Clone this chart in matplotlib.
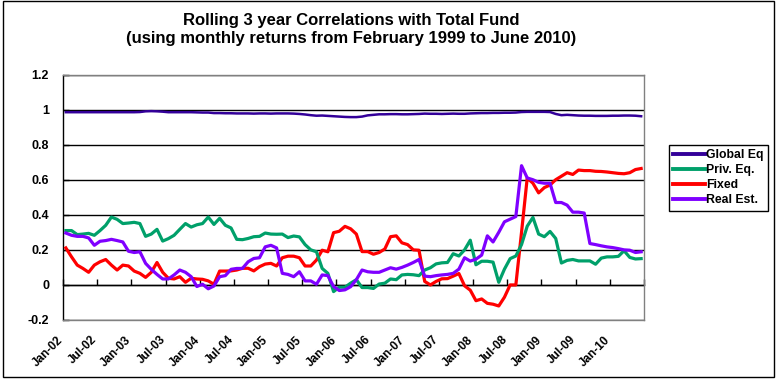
import matplotlib
matplotlib.use("Agg")
import matplotlib.pyplot as plt
import matplotlib.transforms as mtransforms
from matplotlib.patches import Rectangle

plt.rcParams['font.family'] = ['Liberation Sans', 'DejaVu Sans']

# monthly points, Jan-02 .. Jun-10 (102 months)
tick_labels = ["Jan-02", "Jul-02", "Jan-03", "Jul-03", "Jan-04", "Jul-04", "Jan-05", "Jul-05",
               "Jan-06", "Jul-06", "Jan-07", "Jul-07", "Jan-08", "Jul-08", "Jan-09", "Jul-09",
               "Jan-10"]

global_eq = [0.985, 0.985, 0.985, 0.985, 0.985, 0.985, 0.985, 0.985, 0.985, 0.985,
             0.985, 0.985, 0.985, 0.986, 0.99, 0.991, 0.99, 0.988, 0.985, 0.985,
             0.985, 0.985, 0.985, 0.984, 0.983, 0.983, 0.98, 0.98, 0.979, 0.979,
             0.978, 0.978, 0.978, 0.977, 0.978, 0.978, 0.977, 0.978, 0.978, 0.978,
             0.977, 0.975, 0.972, 0.968, 0.965, 0.966, 0.964, 0.962, 0.96, 0.958,
             0.957, 0.957, 0.96, 0.967, 0.97, 0.973, 0.973, 0.974, 0.974, 0.973,
             0.973, 0.974, 0.975, 0.977, 0.976, 0.976, 0.975, 0.976, 0.977, 0.976,
             0.976, 0.978, 0.979, 0.98, 0.98, 0.981, 0.981, 0.982, 0.982, 0.983,
             0.986, 0.987, 0.987, 0.987, 0.987, 0.986, 0.975, 0.968, 0.97, 0.968,
             0.966, 0.965, 0.965, 0.964, 0.964, 0.964, 0.965, 0.965, 0.966, 0.966,
             0.965, 0.962]

priv_eq = [0.31, 0.31, 0.287, 0.29, 0.294, 0.283, 0.31, 0.34, 0.387, 0.374,
           0.35, 0.353, 0.357, 0.35, 0.277, 0.29, 0.317, 0.25, 0.264, 0.283,
           0.317, 0.35, 0.33, 0.343, 0.35, 0.387, 0.345, 0.38, 0.34, 0.325,
           0.26, 0.258, 0.265, 0.275, 0.277, 0.296, 0.29, 0.289, 0.29, 0.27,
           0.279, 0.274, 0.23, 0.2, 0.189, 0.094, 0.066, -0.038, -0.013, -0.013,
           0.01, 0.03, -0.015, -0.015, -0.02, 0.005, 0.01, 0.034, 0.03, 0.057,
           0.06, 0.058, 0.053, 0.085, 0.098, 0.12, 0.126, 0.128, 0.178, 0.165,
           0.2, 0.255, 0.115, 0.135, 0.135, 0.13, 0.015, 0.09, 0.15, 0.165,
           0.23, 0.335, 0.385, 0.29, 0.275, 0.305, 0.265, 0.125, 0.14, 0.145,
           0.137, 0.137, 0.137, 0.118, 0.153, 0.16, 0.16, 0.163, 0.195, 0.157,
           0.148, 0.15]

fixed = [0.211, 0.16, 0.113, 0.094, 0.072, 0.113, 0.132, 0.145, 0.113, 0.085,
         0.113, 0.108, 0.079, 0.066, 0.043, 0.072, 0.128, 0.072, 0.038, 0.034,
         0.047, 0.015, 0.038, 0.034, 0.032, 0.023, 0.004, 0.079, 0.079, 0.08,
         0.085, 0.095, 0.095, 0.08, 0.104, 0.119, 0.123, 0.108, 0.155, 0.164,
         0.164, 0.155, 0.108, 0.108, 0.142, 0.198, 0.189, 0.298, 0.306, 0.334,
         0.32, 0.29, 0.19, 0.19, 0.175, 0.185, 0.205, 0.275, 0.28, 0.24,
         0.23, 0.2, 0.198, 0.02, 0.0, 0.02, 0.035, 0.036, 0.05, 0.065,
         -0.005, -0.03, -0.09, -0.08, -0.105, -0.11, -0.12, -0.07, 0.0, 0.0,
         0.3, 0.61, 0.58, 0.525, 0.555, 0.57, 0.6, 0.62, 0.64, 0.63,
         0.655, 0.652, 0.652, 0.648, 0.647, 0.644, 0.64, 0.636, 0.634, 0.64,
         0.658, 0.664]

real_est = [0.296, 0.283, 0.277, 0.277, 0.268, 0.226, 0.249, 0.253, 0.26, 0.253,
            0.245, 0.192, 0.185, 0.189, 0.123, 0.089, 0.06, 0.034, 0.034, 0.057,
            0.085, 0.072, 0.047, -0.009, 0.004, -0.022, -0.006, 0.047, 0.053, 0.089,
            0.094, 0.094, 0.132, 0.151, 0.155, 0.217, 0.226, 0.211, 0.066, 0.06,
            0.047, 0.075, 0.023, 0.023, 0.004, 0.057, 0.053, -0.009, -0.032, -0.028,
            -0.01, 0.03, 0.085, 0.075, 0.072, 0.072, 0.085, 0.098, 0.09, 0.1,
            0.113, 0.128, 0.145, 0.05, 0.047, 0.053, 0.057, 0.06, 0.066, 0.09,
            0.155, 0.136, 0.147, 0.17, 0.28, 0.245, 0.3, 0.36, 0.375, 0.39,
            0.68, 0.61, 0.6, 0.585, 0.58, 0.58, 0.47, 0.47, 0.455, 0.415,
            0.415, 0.41, 0.236, 0.23, 0.223, 0.217, 0.213, 0.207, 0.2, 0.198,
            0.185, 0.189]

y_ticks = [-0.2, 0, 0.2, 0.4, 0.6, 0.8, 1, 1.2]
y_tick_labels = ["-0.2", "0", "0.2", "0.4", "0.6", "0.8", "1", "1.2"]


def main():
    fig = plt.figure(figsize=(7.78, 3.81), dpi=100)
    ax = fig.add_axes([63 / 778, 1 - 320 / 381, 581 / 778, 245.5 / 381])

    n = len(global_eq)
    x = list(range(n))
    ax.plot(x, global_eq, color="#330099", lw=1.8, label="Global Eq", zorder=5)
    ax.plot(x, priv_eq, color="#00a06a", lw=2.3, label="Priv. Eq.", zorder=4)
    ax.plot(x, fixed, color="#ff0000", lw=2.3, label="Fixed", zorder=3)
    ax.plot(x, real_est, color="#7f00ff", lw=2.3, label="Real Est.", zorder=6)

    ax.set_xlim(-0.5, n - 0.5)
    ax.set_ylim(-0.2, 1.2)

    # y axis
    ax.set_yticks(y_ticks, y_tick_labels)
    ax.tick_params(axis="y", direction="in", length=4, width=1, color="black",
                   labelsize=9, pad=10)
    for lab in ax.get_yticklabels():
        lab.set_fontweight("bold")
    ax.yaxis.grid(True, color="black", lw=1)
    ax.set_axisbelow(True)

    # category labels every 6 months, at the bottom of the plot area
    bounds = [i - 0.5 for i in range(0, n, 6)]
    ax.set_xticks(bounds[:len(tick_labels)], tick_labels)
    ax.tick_params(axis="x", length=0, pad=10, labelsize=8.5)
    shift = mtransforms.ScaledTranslation(-6 / 100, 0, fig.dpi_scale_trans)
    for lab in ax.get_xticklabels():
        lab.set_rotation(45)
        lab.set_ha("right")
        lab.set_va("top")
        lab.set_rotation_mode("anchor")
        lab.set_fontweight("bold")
        lab.set_transform(lab.get_transform() + shift)

    # category axis crossing at 0
    sec = ax.secondary_xaxis(0, transform=ax.transData)
    sec.set_xticks(bounds + [n - 0.5])
    sec.set_xticklabels([])
    sec.tick_params(direction="in", length=4, width=1, color="black")
    sec.spines["bottom"].set_color("black")
    sec.spines["bottom"].set_linewidth(1)

    for side in ["top", "right", "bottom"]:
        ax.spines[side].set_color("#808080")
        ax.spines[side].set_linewidth(1)
    ax.spines["left"].set_color("black")
    ax.spines["left"].set_linewidth(1)

    fig.text(351 / 778, 1 - 25.5 / 381, "Rolling 3 year Correlations with Total Fund",
             ha="center", va="baseline", fontsize=12, fontweight="bold")
    fig.text(351 / 778, 1 - 43 / 381,
             "(using monthly returns from February 1999 to June 2010)",
             ha="center", va="baseline", fontsize=12, fontweight="bold")

    leg = ax.legend(loc="upper left", bbox_to_anchor=(669 / 778, 1 - 145 / 381),
                    bbox_transform=fig.transFigure, frameon=True, fancybox=False,
                    edgecolor="black", framealpha=1, borderaxespad=0,
                    prop={"size": 8.8, "weight": "bold"}, handlelength=2.6,
                    handletextpad=0.1, labelspacing=0.25, borderpad=0.35)
    leg.get_frame().set_linewidth(1)
    for line in leg.get_lines():
        line.set_linewidth(2.8)

    fig.patches.append(Rectangle((3 / 778, 4 / 381), 771 / 778, 376 / 381,
                                 transform=fig.transFigure, fill=False,
                                 edgecolor="black", lw=1))

    fig.savefig("out.png", dpi=100)


if __name__ == '__main__':
    main()
